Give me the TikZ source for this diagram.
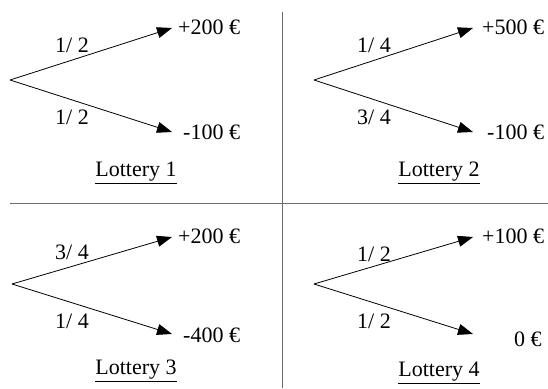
\documentclass[tikz,border=0pt]{standalone}
\usepackage{fontspec}
\setmainfont{Liberation Serif}
\usetikzlibrary{arrows.meta}
\begin{document}
\begin{tikzpicture}[x=1pt,y=-1pt,
  txt/.style={inner sep=0pt,font=\fontsize{22}{26}\selectfont},
  outc/.style={txt,anchor=west},
  branch/.style={line width=0.8pt,-{Triangle[length=15pt,width=11pt]}},
  sep/.style={draw=gray!85!black,line width=1pt}]
\useasboundingbox (0,0) rectangle (548,388);
% separators
\coordinate (vt) at (282,12);
\coordinate (vb) at (282,388);
\coordinate (hl) at (10,203);
\coordinate (hr) at (548,203);
\draw[sep] (vt) -- (vb);
\draw[sep] (hl) -- (hr);
% Lottery 1
\coordinate (o1) at (10,80);
\coordinate (u1) at (172,28);
\coordinate (d1) at (172,132);
\draw[branch] (o1) -- (u1);
\draw[branch] (o1) -- (d1);
\node[txt] (p1u) at (72,45) {1/ 2};
\node[txt] (p1d) at (72,117) {1/ 2};
\node[outc] (r1u) at (178,27) {+200 €};
\node[outc] (r1d) at (183,132) {-100 €};
\node[txt] (l1) at (136,173) {\underline{Lottery 1}};
% Lottery 2
\coordinate (o2) at (314,80);
\coordinate (u2) at (473,28);
\coordinate (d2) at (473,132);
\draw[branch] (o2) -- (u2);
\draw[branch] (o2) -- (d2);
\node[txt] (p2u) at (374,45) {1/ 4};
\node[txt] (p2d) at (374,117) {3/ 4};
\node[outc] (r2u) at (482,27) {+500 €};
\node[outc] (r2d) at (487,132) {-100 €};
\node[txt] (l2) at (439,173) {\underline{Lottery 2}};
% Lottery 3
\coordinate (o3) at (12,284);
\coordinate (u3) at (172,237);
\coordinate (d3) at (172,334);
\draw[branch] (o3) -- (u3);
\draw[branch] (o3) -- (d3);
\node[txt] (p3u) at (72,252) {3/ 4};
\node[txt] (p3d) at (72,321) {1/ 4};
\node[outc] (r3u) at (178,236) {+200 €};
\node[outc] (r3d) at (183,335) {-400 €};
\node[txt] (l3) at (136,371) {\underline{Lottery 3}};
% Lottery 4
\coordinate (o4) at (314,284);
\coordinate (u4) at (473,237);
\coordinate (d4) at (473,334);
\draw[branch] (o4) -- (u4);
\draw[branch] (o4) -- (d4);
\node[txt] (p4u) at (374,254) {1/ 2};
\node[txt] (p4d) at (374,321) {1/ 2};
\node[outc] (r4u) at (482,236) {+100 €};
\node[outc] (r4d) at (514,339) {0 €};
\node[txt] (l4) at (439,373) {\underline{Lottery 4}};
\end{tikzpicture}
\end{document}
